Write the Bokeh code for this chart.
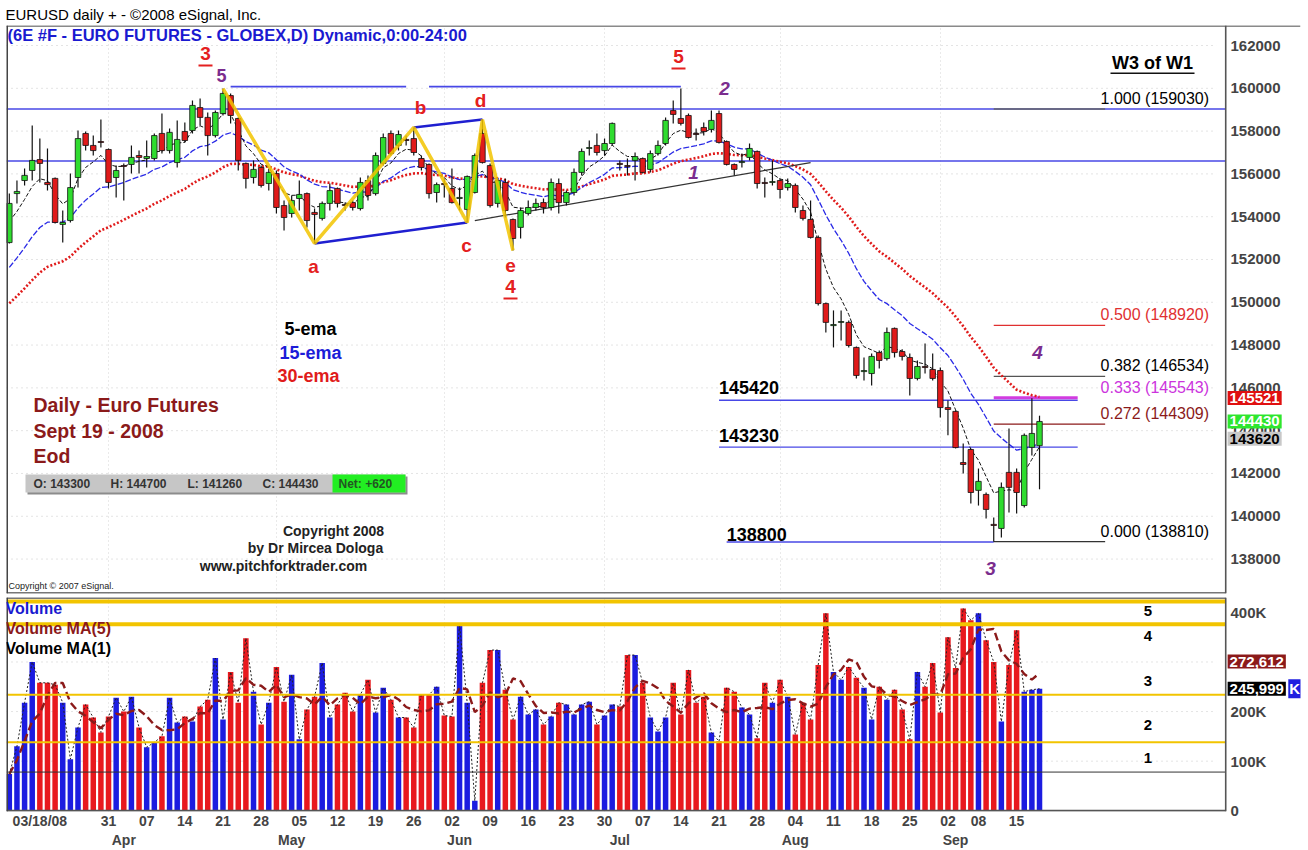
import numpy as np
from bokeh.plotting import figure
from bokeh.models import (Range1d, LinearAxis, FixedTicker, Label, Span, BoxAnnotation,
                          ColumnDataSource, Grid, Title)
from bokeh.layouts import column
from bokeh.embed import file_html
from bokeh.resources import INLINE
from bokeh.core.properties import value

FONT = "Liberation Sans"

# ---------------- data ----------------
opens = [152790,155080,155690,156160,156670,155600,155790,153640,153820,155830,
         157890,157330,157510,157140,155830,156390,156440,156860,156720,156720,
         157890,157090,156530,157980,158030,159100,158640,157790,158820,159660,
         158590,156490,155830,156300,155550,156020,154520,154150,154850,155080,
         154200,153920,154620,155320,154570,154660,154380,155690,155080,156490,
         157890,157330,157610,157650,156720,156440,155130,155550,155320,154850,
         154340,155130,157890,156390,154620,155600,153870,153500,154150,154430,
         154660,154430,155550,154660,155130,156070,157190,157330,157090,157420,
         156490,156390,156630,156720,156210,156950,157420,158960,158590,158730,
         157890,158170,158080,158820,157510,156440,156530,156770,157050,155600,
         155600,155690,155360,155460,154290,153870,153030,149940,148910,149060,
         149060,147890,146760,146670,147650,147370,148780,147700,147420,146440,
         147000,146860,146810,145080,144900,142510,143120,141210,141020,139620,
         139430,142050,142050,140500,143220,143300]
highs = [155080,155690,156250,158260,157650,157190,155830,154290,156020,158030,
         157980,157790,158540,157190,156390,156490,157330,157090,157560,157890,
         158820,158120,158500,158400,159430,159520,158870,158960,159990,159760,
         158640,156530,156630,156390,156250,156160,154760,154990,155690,155130,
         154380,154710,155550,155360,154660,154760,155830,155930,157000,157890,
         158030,158030,157790,158170,156860,156490,155600,155790,156250,155360,
         155930,156950,158540,156490,155790,155790,153920,154430,154760,154850,
         154850,155790,155790,155220,156250,157190,157560,157890,157650,158400,
         156630,156720,157000,156770,157090,157560,158640,159430,159990,158820,
         158120,158400,158960,158960,157560,156490,156950,157420,157090,155830,
         156630,155790,155790,155550,154520,154760,153120,149990,149620,149620,
         149150,147930,147420,147610,147750,148820,148820,147800,147610,147280,
         148070,147610,146950,145410,144940,143400,143170,142230,141110,139940,
         141580,144100,142230,143870,145520,144700]
lows = [152750,154620,155460,155690,155600,155220,153680,152790,153730,155360,
        157090,156860,157230,155320,154900,154760,156020,156020,156300,156630,
        156950,156950,156300,157470,157890,158260,156860,157700,158730,158360,
        156160,155320,155550,155360,155220,154150,153360,153960,154290,153500,
        152750,153820,154290,154430,154290,154290,154290,154760,154990,156390,
        156860,157090,157330,156860,156160,154850,154660,154900,154620,154290,
        153730,155080,156490,154430,154430,153960,152420,152980,154060,154290,
        154150,154290,154150,154520,154990,155930,156860,156860,156860,157330,
        156160,155930,155690,156020,156070,156860,157330,158360,158260,157650,
        157560,157790,157940,157420,156390,155930,156300,156630,155320,154900,
        155460,154850,155220,154200,153820,152980,149850,148590,147890,148210,
        147890,146440,146350,146110,146910,147280,147420,147280,145640,146350,
        146670,146350,144620,143780,143170,142000,140600,140500,139900,138810,
        139010,140180,140130,140410,142840,141260]
closes = [154620,155180,155930,156630,156490,155500,153730,153730,155360,157650,
          157330,157090,157470,155600,156160,156350,156770,156770,156810,157790,
          157090,157940,157610,157560,159200,158640,157790,158870,159760,158730,
          156630,155790,156210,155460,156070,154430,153960,154760,155040,153820,
          154100,154620,155220,154620,154520,154430,155600,154990,156860,157700,
          156950,157840,157560,157000,156300,155080,155500,155500,154660,154900,
          155880,156860,156530,154520,155690,154290,152980,154290,154430,154620,
          154430,155600,154660,155130,156070,157050,157230,157000,157420,158360,
          156440,156350,156810,156070,156950,157330,158500,158780,158360,157700,
          157840,157980,158500,157470,156440,156210,156580,157190,155550,155550,
          155640,155270,155550,154430,153920,153030,149940,149060,148960,149100,
          147980,146580,146810,147470,147280,148590,147650,147470,146440,147000,
          146950,146440,145080,144990,143210,142420,141110,141630,140320,139570,
          141350,141350,141110,143780,143870,144430]
volumes = [74000,130000,218000,300000,258000,258000,254000,218000,104000,168000,
           214000,188000,158000,190000,228000,200000,230000,168000,128000,138000,
           150000,228000,178000,190000,180000,210000,224000,308000,184000,280000,
           218000,348000,240000,174000,218000,290000,220000,274000,144000,204000,
           230000,298000,188000,214000,238000,200000,234000,264000,198000,248000,
           224000,188000,188000,168000,234000,234000,250000,192000,190000,374000,
           218000,20000,258000,324000,324000,244000,184000,230000,194000,204000,
           174000,190000,218000,214000,194000,214000,220000,174000,192000,214000,
           210000,314000,314000,258000,188000,160000,188000,258000,194000,284000,
           218000,230000,158000,140000,248000,240000,208000,194000,146000,258000,
           218000,264000,230000,154000,218000,184000,294000,398000,280000,264000,
           290000,268000,248000,184000,250000,224000,244000,204000,144000,280000,
           250000,298000,198000,350000,288000,408000,384000,398000,344000,300000,
           180000,294000,364000,240000,244000,246000]

day_tick_idx = [4,13,18,23,28,33,38,43,48,53,58,63,68,73,78,83,88,93,98,103,108,113,118,123,127,132]
day_tick_labels = ["03/18/08","31","07","14","21","28","05","12","19","26","02","09","16","23","30",
                   "07","14","21","28","04","11","18","25","02","08","15"]
month_tick_idx = [15, 37, 59, 80, 103, 124]
month_tick_labels = ["Apr", "May", "Jun", "Jul", "Aug", "Sep"]
month_end_idx = [13, 35, 57, 78, 101, 122]
price_ticks = list(range(138000, 162001, 2000))
price_tick_labels = [str(t) for t in price_ticks]
vol_ticks = [0, 100000, 200000, 400000]
vol_tick_labels = ["0", "100K", "200K", "400K"]
vol_grid_ticks = [100000, 200000, 300000]

ema_periods = [5, 15, 30]
ema_seeds = [153780, 151630, 149950]

fib_ratios = ["1.000", "0.500", "0.382", "0.333", "0.272", "0.000"]
fib_prices = [159030, 148920, 146534, 145543, 144309, 138810]
res_levels = [159030, 156600]
top_level = 160080
pivot_levels = [145420, 143230, 138800]
wave_idx = [28, 40, 53, 60, 62, 66]
trend_idx = [61, 105]
trend_prices = [153820, 156530]
last_box_texts = ["145521", "144430", "143620"]
last_box_prices = [145521, 144430, 143620]
vol_box_texts = ["272,612", "245,999"]
vol_box_values = [272612, 245999]
vol_zone_levels = [422000, 376000, 234000, 138000, 78000]
vol_zone_names = ["5", "4", "3", "2", "1"]
vol_zone_label_values = [402000, 352000, 262000, 172000, 106000]
ohlc_texts = ["O: 143300", "H: 144700", "L: 141260", "C: 144430"]
net_text = "Net: +620"

# ---------------- derived ----------------
n = len(closes)
idx = np.arange(n)
o = np.array(opens, float); h = np.array(highs, float)
l = np.array(lows, float); c = np.array(closes, float)
up = c >= o


def ema(vals, period, seed):
    k = 2.0 / (period + 1)
    out = [seed]
    for x in vals[1:]:
        out.append(out[-1] + k * (x - out[-1]))
    return out


emas = [ema(c, per, s) for per, s in zip(ema_periods, ema_seeds)]
vma5 = [float(np.mean(volumes[max(0, i - 4):i + 1])) for i in range(n)]

GREEN = "#2fdc2f"; RED = "#e01a1a"; BLUE = "#1c1ce0"; VRED = "#e8191e"
LINEBLUE = "#4848e6"; PURPLE = "#7b2d8e"; DARKRED = "#8b1a1a"; GOLD = "#f2c400"
EDGE = "#777777"

LEFT = 6
MAIN_BOTTOM = 593
VOL_BOTTOM = 812
X0, X1 = -0.37, 169.2      # visible index range (frame spans page x 6..1300)
AXIS_X = 159.4             # where the price / volume axis line sits (page x 1225)


def tlabel(fig, bottom, text, X, Y, color="black", size=14, style="bold", align="center",
           bg=None, pad=0):
    lab = Label(x=X - LEFT, y=bottom - Y, x_units="screen", y_units="screen", text=text,
                text_color=color, text_font=FONT, text_font_size=f"{size}px",
                text_font_style=style, text_align=align, text_baseline="middle")
    if bg is not None:
        lab.background_fill_color = bg
        lab.padding = pad
    fig.add_layout(lab)


def sbox(fig, bottom, x0, x1, y0, y1, color):
    fig.add_layout(BoxAnnotation(left=x0 - LEFT, right=x1 - LEFT, top=bottom - y0,
                                 bottom=bottom - y1, left_units="screen", right_units="screen",
                                 top_units="screen", bottom_units="screen",
                                 fill_color=color, fill_alpha=1.0, line_color=None))


def style_right_axis(ax):
    ax.major_label_text_font = FONT
    ax.major_label_text_font_style = "bold"
    ax.major_label_text_font_size = "15px"
    ax.major_tick_out = 0
    ax.major_tick_in = 0
    ax.major_label_standoff = -70
    ax.major_tick_line_color = None
    ax.minor_tick_line_color = None
    ax.axis_line_color = None


# ---------------- main price panel ----------------
x_range = Range1d(X0, X1)
y_main = Range1d(136390, 162935)
p = figure(width=1308, height=596, x_range=x_range, y_range=y_main,
           x_axis_location=None, y_axis_location="right", output_backend="svg",
           toolbar_location=None, min_border_left=LEFT, min_border_right=8,
           min_border_top=25, min_border_bottom=3)
p.grid.visible = False
p.outline_line_color = None
p.add_layout(Title(text="EURUSD daily + - \u00a92008 eSignal, Inc.", align="left",
                   text_font=FONT, text_font_size="15px", text_font_style="normal",
                   text_color="black", standoff=5, offset=-1), "above")
p.yaxis.ticker = FixedTicker(ticks=price_ticks)
p.yaxis.major_label_overrides = dict(zip(price_ticks, price_tick_labels))
style_right_axis(p.yaxis[0])

# frame edges and axis line
p.add_layout(Span(location=y_main.end, dimension="width", line_color="#8a8a8a", line_width=3))
p.add_layout(Span(location=X0, dimension="height", line_color="#444444", line_width=3))
p.add_layout(Span(location=AXIS_X, dimension="height", line_color="#555555", line_width=1.6))
p.segment(x0=[X0], y0=[y_main.start], x1=[AXIS_X], y1=[y_main.start], line_color=EDGE, line_width=3)

# dotted grid
p.segment(x0=[X0] * len(price_ticks), y0=price_ticks, x1=[158.2] * len(price_ticks), y1=price_ticks,
          line_color="#c8c8c8", line_dash="1 4", line_width=1)
p.add_layout(Grid(dimension=0, ticker=FixedTicker(ticks=month_end_idx),
                  grid_line_color="#d4d4d4", grid_line_dash="1 3"))

p.segment(x0=[X0] * len(res_levels), y0=res_levels, x1=[AXIS_X] * len(res_levels), y1=res_levels,
          line_color=LINEBLUE, line_width=1.6)
p.segment(x0=[29, 55], y0=[top_level] * 2, x1=[52, 88], y1=[top_level] * 2,
          line_color=LINEBLUE, line_width=1.6)

# pivot levels
p.segment(x0=[93, 93, 94], y0=pivot_levels, x1=[140, 140, 129], y1=pivot_levels,
          line_color=LINEBLUE, line_width=1.4)
p.text(x=[93, 93, 94], y=pivot_levels, text=[str(v) for v in pivot_levels],
       text_font=value(FONT), text_font_style="bold", text_font_size="18px",
       text_baseline="bottom", text_align="left", y_offset=[-6, -5, -1], text_color="black")

# fib lines
fib_line_colors = ["#666666", "#e03030", "#555555", "#d23ce0", "#8b1a1a", "#333333"]
fib_text_colors = ["black", "#e03030", "black", "#cc33dd", "#8b1a1a", "black"]
fib_widths = [1.5, 1.3, 1.3, 3.0, 1.3, 1.3]
fib_ends = [143.6, 143.6, 143.6, 140.0, 143.6, 143.6]
p.segment(x0=[129] * 6, y0=fib_prices, x1=fib_ends, y1=fib_prices,
          line_color=fib_line_colors, line_width=fib_widths)
p.text(x=[143.0] * 6, y=fib_prices, text=[f"{r} ({v})" for r, v in zip(fib_ratios, fib_prices)],
       text_color=fib_text_colors, text_font=value(FONT), text_font_size="16px",
       text_baseline="bottom", text_align="left", y_offset=-2)

# EMAs
p.line(idx, emas[2], line_color="#e01b1b", line_width=2.6, line_dash="2 2")
p.line(idx, emas[1], line_color="#2a2ae6", line_width=1.3, line_dash="6 2")
p.line(idx, emas[0], line_color="#111111", line_width=1.0, line_dash="4 2")

# trend lines
p.line(trend_idx, trend_prices, line_color="#333333", line_width=1.3)
p.line([wave_idx[1], wave_idx[3]], [l[wave_idx[1]], l[wave_idx[3]]], line_color="#1f1fd0", line_width=2.6)
p.line([wave_idx[2], wave_idx[4]], [h[wave_idx[2]], h[wave_idx[4]]], line_color="#1f1fd0", line_width=2.6)

# candles
src = ColumnDataSource(dict(x=idx, h=h, l=l, top=np.maximum(o, c), bot=np.minimum(o, c),
                            col=[GREEN if u else RED for u in up]))
p.segment(x0="x", y0="h", x1="x", y1="l", source=src, line_color="#111111", line_width=1.2)
p.vbar(x="x", width=0.72, top="top", bottom="bot", fill_color="col", line_color="#111111",
       line_width=0.8, source=src)

# yellow zig-zag
zz_y = [h[i] if k % 2 == 0 else l[i] for k, i in enumerate(wave_idx)]
p.line(wave_idx, zz_y, line_color=GOLD, line_width=3.5, line_alpha=0.85)

# texts on main panel
tlabel(p, MAIN_BOTTOM, "(6E #F - EURO FUTURES - GLOBEX,D) Dynamic,0:00-24:00", 7, 34,
       color="#1a1ad0", size=16.5, align="left")
tlabel(p, MAIN_BOTTOM, "3", 205, 53, color="#e42020", size=19)
sbox(p, MAIN_BOTTOM, 198, 212, 64, 66, "#e42020")
tlabel(p, MAIN_BOTTOM, "5", 221, 75, color=PURPLE, size=18)
tlabel(p, MAIN_BOTTOM, "5", 678, 56, color="#e42020", size=19)
sbox(p, MAIN_BOTTOM, 671, 685, 67, 69, "#e42020")
tlabel(p, MAIN_BOTTOM, "2", 724, 88, color=PURPLE, size=19, style="bold italic")
tlabel(p, MAIN_BOTTOM, "1", 693, 172, color=PURPLE, size=19, style="bold italic")
for t, X, Y in [("a", 313, 266), ("b", 420, 107), ("c", 466, 245), ("d", 480, 100), ("e", 510, 265)]:
    tlabel(p, MAIN_BOTTOM, t, X, Y, color="#e42020", size=19)
tlabel(p, MAIN_BOTTOM, "4", 510, 286, color="#e42020", size=19)
sbox(p, MAIN_BOTTOM, 503, 517, 297, 299, "#e42020")
tlabel(p, MAIN_BOTTOM, "4", 1037, 352, color=PURPLE, size=19, style="bold italic")
tlabel(p, MAIN_BOTTOM, "3", 990, 568, color=PURPLE, size=19, style="bold italic")
tlabel(p, MAIN_BOTTOM, "W3 of W1", 1152, 62, size=18)
sbox(p, MAIN_BOTTOM, 1110, 1194, 72, 73.5, "#111111")
tlabel(p, MAIN_BOTTOM, "5-ema", 310, 328, size=18)
tlabel(p, MAIN_BOTTOM, "15-ema", 310, 352, color="#1c1cd8", size=18)
tlabel(p, MAIN_BOTTOM, "30-ema", 308, 375, color="#e01b1b", size=18)
tlabel(p, MAIN_BOTTOM, "Daily - Euro Futures", 33, 404, color=DARKRED, size=19.5, align="left")
tlabel(p, MAIN_BOTTOM, "Sept 19 - 2008", 33, 430, color=DARKRED, size=19.5, align="left")
tlabel(p, MAIN_BOTTOM, "Eod", 33, 455, color=DARKRED, size=19.5, align="left")
sbox(p, MAIN_BOTTOM, 27, 407, 476, 494, "#8c8c8c")
sbox(p, MAIN_BOTTOM, 25, 405, 474, 492, "#c6c6c6")
sbox(p, MAIN_BOTTOM, 332, 405, 474, 492, "#22ee22")
for t, X in zip(ohlc_texts, [33, 110, 187, 262]):
    tlabel(p, MAIN_BOTTOM, t, X, 483, color="#333333", size=12, align="left")
tlabel(p, MAIN_BOTTOM, net_text, 338, 483, color="#225522", size=12, align="left")
tlabel(p, MAIN_BOTTOM, "Copyright 2008", 333, 530, color="#222222", size=14)
tlabel(p, MAIN_BOTTOM, "by Dr Mircea Dologa", 315, 547, color="#222222", size=14)
tlabel(p, MAIN_BOTTOM, "www.pitchforktrader.com", 283, 565, color="#222222", size=14)
tlabel(p, MAIN_BOTTOM, "Copyright \u00a9 2007 eSignal.", 8, 585, color="#222222", size=9,
       style="normal", align="left")

# last value boxes on the price axis
box_bg = ["#e01010", "#2ee62e", "#c8c8c8"]
box_fg = ["white", "white", "black"]
for t, pr, bg, fg in zip(last_box_texts, last_box_prices, box_bg, box_fg):
    p.add_layout(Label(x=AXIS_X + 0.25, y=pr, text=t, text_color=fg,
                       text_font=FONT, text_font_size="15px", text_font_style="bold",
                       text_align="left", text_baseline="middle", background_fill_color=bg,
                       padding=2))

# ---------------- volume panel ----------------
y_vol = Range1d(-1500, 430000)
v = figure(width=1308, height=254, x_range=x_range, y_range=y_vol,
           x_axis_location="below", y_axis_location="right", output_backend="svg",
           toolbar_location=None, min_border_left=LEFT, min_border_right=8,
           min_border_top=1, min_border_bottom=38)
v.grid.visible = False
v.outline_line_color = None
v.add_layout(Span(location=X0, dimension="height", line_color="#444444", line_width=3))
v.add_layout(Span(location=AXIS_X, dimension="height", line_color="#555555", line_width=1.6))
v.segment(x0=[X0], y0=[y_vol.end], x1=[AXIS_X], y1=[y_vol.end], line_color=EDGE, line_width=3)
v.segment(x0=[X0] * 3, y0=vol_grid_ticks, x1=[158.2] * 3, y1=vol_grid_ticks,
          line_color="#c8c8c8", line_dash="1 4", line_width=1)
v.add_layout(Grid(dimension=0, ticker=FixedTicker(ticks=month_end_idx),
                  grid_line_color="#d4d4d4", grid_line_dash="1 3"))
v.yaxis.ticker = FixedTicker(ticks=vol_ticks)
v.yaxis.major_label_overrides = dict(zip(vol_ticks, vol_tick_labels))
style_right_axis(v.yaxis[0])

v.xaxis.ticker = FixedTicker(ticks=day_tick_idx)
v.xaxis.major_label_overrides = dict(zip(day_tick_idx, day_tick_labels))
v.xaxis.major_label_text_font = FONT
v.xaxis.major_label_text_font_style = "bold"
v.xaxis.major_label_text_font_size = "14px"
v.xaxis.major_label_standoff = 1
v.xaxis.major_tick_out = 0
v.xaxis.major_tick_in = 0
v.xaxis.major_tick_line_color = None
v.xaxis.minor_tick_line_color = None
v.xaxis.axis_line_color = None
mx = LinearAxis(ticker=FixedTicker(ticks=month_tick_idx),
                major_label_overrides=dict(zip(month_tick_idx, month_tick_labels)),
                major_label_text_font=FONT, major_label_text_font_style="bold",
                major_label_text_font_size="14px", major_label_standoff=0,
                major_tick_out=0, major_tick_in=0,
                major_tick_line_color=None, minor_tick_line_color=None, axis_line_color=None)
v.add_layout(mx, "below")

v.vbar(x=idx, top=volumes, width=0.72, bottom=0,
       fill_color=[BLUE if u else VRED for u in up], line_color=None)
v.line(idx, volumes, line_color="#222222", line_width=1, line_dash="2 2")
v.line(idx, vma5, line_color=DARKRED, line_width=2.4, line_dash="8 4")
zone_colors = [GOLD, GOLD, GOLD, GOLD, "#333333"]
zone_widths = [4, 4, 2, 2, 1]
v.segment(x0=[X0] * 5, y0=vol_zone_levels, x1=[AXIS_X] * 5, y1=vol_zone_levels,
          line_color=zone_colors, line_width=zone_widths)
v.segment(x0=[X0], y0=[0], x1=[AXIS_X], y1=[0], line_color="#555555", line_width=2)
v.text(x=[149.2] * 5, y=vol_zone_label_values, text=vol_zone_names, text_font=value(FONT),
       text_font_style="bold", text_font_size="15px", text_align="center",
       text_baseline="middle", text_color="black")

tlabel(v, VOL_BOTTOM, "Volume", 5, 609, color="#1a1ad0", size=16, align="left")
tlabel(v, VOL_BOTTOM, "Volume MA(5)", 5, 629, color=DARKRED, size=16, align="left")
tlabel(v, VOL_BOTTOM, "Volume MA(1)", 5, 649, color="black", size=16, align="left")

vb_bg = [DARKRED, "black"]
vb_off = [14, 0]
for t, val, bg, off in zip(vol_box_texts, vol_box_values, vb_bg, vb_off):
    v.add_layout(Label(x=AXIS_X + 0.25, y=val, y_offset=off, text=t,
                       text_color="white", text_font=FONT, text_font_size="15px",
                       text_font_style="bold", text_align="left", text_baseline="middle",
                       background_fill_color=bg, padding=2))
v.add_layout(Label(x=167.6, y=vol_box_values[1], text="K",
                   text_color="white", text_font=FONT, text_font_size="15px",
                   text_font_style="bold", text_align="left", text_baseline="middle",
                   background_fill_color="#2020e0", padding=1))

layout = column(p, v, spacing=0)
open("out.html", "w").write(file_html(layout, INLINE))
